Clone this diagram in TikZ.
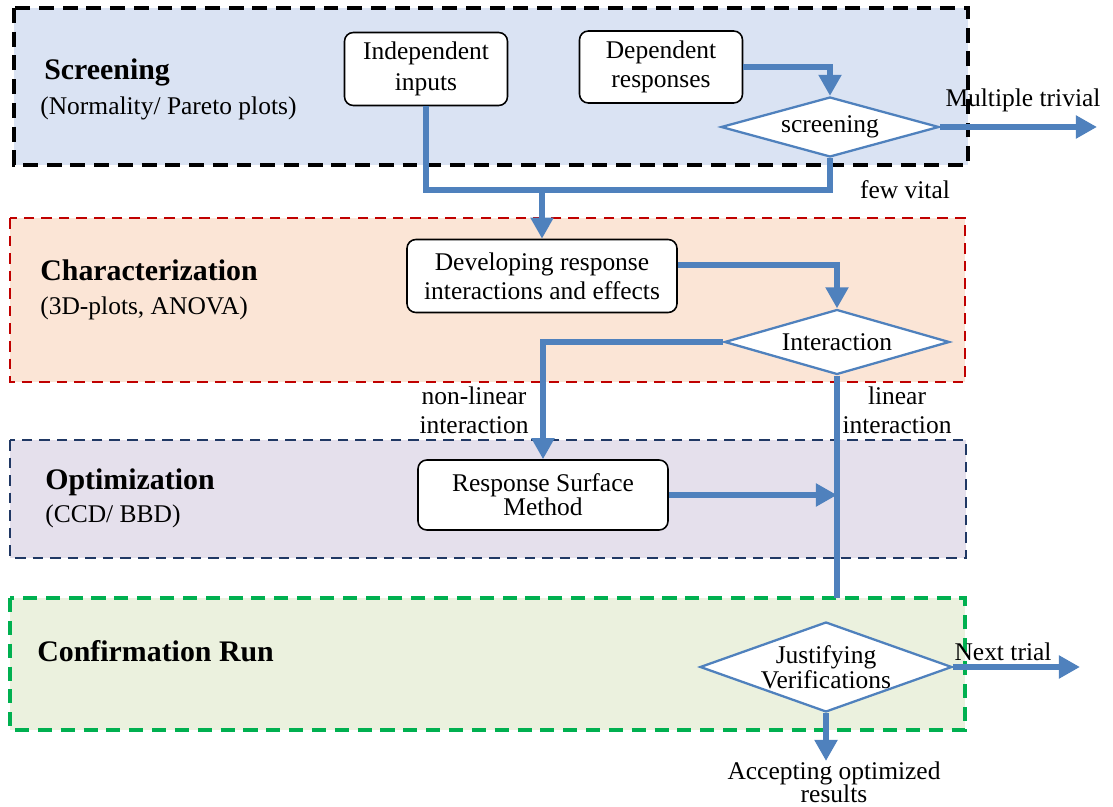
\documentclass[tikz,border=0pt]{standalone}
\usepackage{fontspec}
\setmainfont{Liberation Serif}
\usetikzlibrary{positioning,arrows.meta,shapes.geometric}
\definecolor{flowblue}{HTML}{4F81BD}
\definecolor{scrfill}{HTML}{DAE3F3}
\definecolor{charfill}{HTML}{FBE5D6}
\definecolor{charline}{HTML}{C00000}
\definecolor{optfill}{HTML}{E5E0EC}
\definecolor{optline}{HTML}{203864}
\definecolor{conffill}{HTML}{EBF1DE}
\definecolor{confline}{HTML}{00B050}

\begin{document}
\begin{tikzpicture}[
x=0.02cm, y=-0.02cm,
every node/.style={font=\fontsize{14.5}{16.5}\selectfont, align=center},
box/.style={draw, rounded corners=5pt, fill=white, line width=0.9pt, inner sep=2pt},
decision/.style={diamond, draw=flowblue, fill=white, line width=1.3pt, inner sep=0pt},
flow/.style={draw=flowblue, line width=3.3pt, -{Triangle[length=12pt,width=12.5pt]}},
link/.style={draw=flowblue, line width=3.3pt},
title/.style={font=\fontsize{17}{20}\selectfont\bfseries, anchor=west, inner sep=0pt},
sub/.style={anchor=west, inner sep=0pt},
note/.style={inner sep=0pt}
]

\useasboundingbox (0,0) rectangle (1113,807);

%-------------------------
% Zones
%-------------------------

\draw[fill=scrfill, draw=black, line width=2.1pt, dash pattern=on 8.5pt off 5pt] (14,8) rectangle (968,165);
\draw[fill=charfill, draw=charline, line width=1.5pt, dash pattern=on 6pt off 4pt] (10,218) rectangle (965,382);
\draw[fill=optfill, draw=optline, line width=1.5pt, dash pattern=on 6pt off 4pt] (10,440) rectangle (966,558);
\draw[fill=conffill, draw=confline, line width=1.9pt, dash pattern=on 8pt off 5pt] (10,598) rectangle (965,730);

\node[title] (tscr)  at (44,72)  {Screening};
\node[sub]   (sscr)  at (40,108) {(Normality/ Pareto plots)};
\node[title] (tchar) at (40,270) {Characterization};
\node[sub]   (schar) at (40,308) {(3D-plots, ANOVA)};
\node[title] (topt)  at (45,482) {Optimization};
\node[sub]   (sopt)  at (45,516) {(CCD/ BBD)};
\node[title] (tconf) at (37,651) {Confirmation Run};

%-------------------------
% Nodes
%-------------------------

\node[box, minimum width=3.26cm, minimum height=1.46cm, font=\fontsize{14.5}{18}\selectfont] (ind) at (426,69) {Independent\\inputs};
\node[box, minimum width=3.26cm, minimum height=1.44cm] (dep) at (661,67) {Dependent\\responses};

\node[decision, aspect=3.6, minimum width=4.36cm, minimum height=1.2cm] (scr) at (830,127) {screening};

\node[box, minimum width=5.4cm, minimum height=1.46cm] (dev) at (542,276) {Developing response\\interactions and effects};

\node[decision, aspect=3.5, minimum width=4.5cm, minimum height=1.3cm] (int) at (837,342) {Interaction};

\node[box, minimum width=5cm, minimum height=1.4cm, font=\fontsize{14.5}{13.8}\selectfont] (rsm) at (543,495) {Response Surface\\Method};

\node[decision, aspect=2.8, minimum width=5.04cm, minimum height=1.8cm, font=\fontsize{14.5}{13.2}\selectfont] (jus) at (826,667) {Justifying\\Verifications};

\coordinate (fv)   at (830,190);
\coordinate (triv) at (1097,127);
\coordinate (lin)  at (837,598);
\coordinate (next) at (1080,667);

\node[note, anchor=north, font=\fontsize{14.5}{13.2}\selectfont] (acc) at (834,761) {Accepting optimized\\results};

\node[note] (ltriv) at (1023,100) {Multiple trivial};
\node[note] (lfv)   at (905,190)  {few vital};
\node[note] (lnl)   at (474,410)  {non-linear\\interaction};
\node[note] (llin)  at (897,410)  {linear\\interaction};
\node[note] (lnext) at (1003,652) {Next trial};

%-------------------------
% Arrows
%-------------------------

\draw[flow] (dep.east) -| (scr.north);
\draw[flow] (scr.east) -- (triv);

\draw[link] (ind.south) |- (fv) -- (scr.south);
\draw[flow] (dev.north |- fv) -- (dev.north);

\draw[flow] ([yshift=0.22cm]dev.east) -| (int.north);

\draw[flow] (int.west) -| (rsm.north);
\draw[link] (int.south) -- (lin);
\draw[flow] (rsm.east) -- (rsm.east -| int.south);

\draw[flow] (jus.east) -- (next);
\draw[flow] (jus.south) -- (jus.south |- acc.north);

\end{tikzpicture}
\end{document}
